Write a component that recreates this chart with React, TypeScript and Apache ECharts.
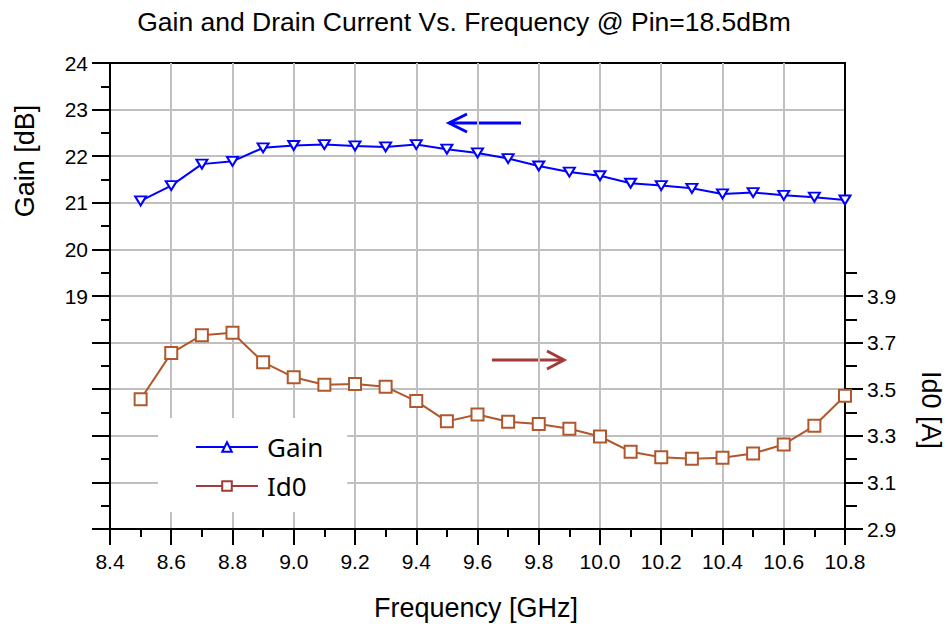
import React, { useEffect, useRef } from 'react';
import * as echarts from 'echarts';

const freqGHz = [8.5, 8.6, 8.7, 8.8, 8.9, 9.0, 9.1, 9.2, 9.3, 9.4, 9.5, 9.6, 9.7, 9.8, 9.9, 10.0, 10.1, 10.2, 10.3, 10.4, 10.5, 10.6, 10.7, 10.8];
const gainDb = [21.04, 21.37, 21.83, 21.89, 22.18, 22.23, 22.25, 22.22, 22.2, 22.25, 22.15, 22.07, 21.95, 21.79, 21.66, 21.58, 21.42, 21.37, 21.31, 21.19, 21.22, 21.16, 21.12, 21.06];
const id0A = [3.457, 3.655, 3.732, 3.742, 3.616, 3.551, 3.519, 3.522, 3.51, 3.449, 3.362, 3.391, 3.36, 3.351, 3.33, 3.297, 3.232, 3.208, 3.201, 3.206, 3.224, 3.263, 3.343, 3.472];
const id0MajorTicks = [2.9, 3.1, 3.3, 3.5, 3.7, 3.9];
const id0MinorTicks = [3.0, 3.2, 3.4, 3.6, 3.8, 4.0];
const gainLabelMin = 19;

const titleText = 'Gain and Drain Current Vs. Frequency @ Pin=18.5dBm';
const xName = 'Frequency [GHz]';
const yLeftName = 'Gain [dB]';
const yRightName = 'Id0 [A]';

export default function App() {
  const ref = useRef<HTMLDivElement>(null);
  useEffect(() => {
    const chart = echarts.init(ref.current!, null, { renderer: 'svg' });
    const font = '"Liberation Sans", Arial, sans-serif';
    const black = { color: '#000', width: 2 };
    const gridGray = { color: '#c0c0c0', width: 2 };
    const blue = '#0000ff';
    const brown = '#b0582c';
    const legendRed = '#a33a3a';
    const fmt1 = (v: number) => v.toFixed(1);

    chart.setOption({
      animation: false,
      backgroundColor: '#fff',
      grid: { left: 110, top: 63, right: 103, bottom: 95, show: true, borderColor: '#000', borderWidth: 2, backgroundColor: 'transparent' },
      xAxis: {
        type: 'value', min: 8.4, max: 10.8, interval: 0.2,
        axisLine: { lineStyle: black },
        axisTick: { length: 16, lineStyle: black },
        minorTick: { show: true, splitNumber: 2, length: 8, lineStyle: black },
        axisLabel: { fontSize: 21, color: '#000', margin: 22, fontFamily: font, formatter: fmt1 },
        splitLine: { show: true, lineStyle: gridGray, showMinLine: false, showMaxLine: false },
      },
      yAxis: [
        {
          type: 'value', min: 14, max: 24, interval: 1, position: 'left',
          axisLine: { show: true, lineStyle: black },
          axisTick: { show: true, length: 18, lineStyle: black },
          minorTick: { show: true, splitNumber: 2, length: 9, lineStyle: black },
          axisLabel: { fontSize: 21, color: '#000', margin: 22, fontFamily: font, formatter: (v: number) => (v >= gainLabelMin ? String(v) : '') },
          splitLine: { show: true, lineStyle: gridGray, showMinLine: false, showMaxLine: false },
        },
        {
          type: 'value', min: 2.9, max: 4.9, position: 'right',
          axisLine: { show: true, lineStyle: black },
          axisTick: { show: true, length: 18, lineStyle: black, customValues: id0MajorTicks },
          axisLabel: { fontSize: 21, color: '#000', margin: 22, fontFamily: font, customValues: id0MajorTicks, formatter: fmt1 },
          splitLine: { show: false },
        },
        {
          type: 'value', min: 2.9, max: 4.9, position: 'right',
          axisLine: { show: false },
          axisTick: { show: true, length: 12, lineStyle: black, customValues: id0MinorTicks },
          axisLabel: { show: false },
          splitLine: { show: false },
        },
      ],
      legend: {
        orient: 'vertical', left: 158, top: 418,
        itemWidth: 62, itemHeight: 12, itemGap: 13,
        padding: [16, 24, 13, 37],
        backgroundColor: '#fff',
        selectedMode: false,
        symbolRotate: 0,
        textStyle: { fontSize: 26, fontFamily: '"Noto Sans", sans-serif', color: '#000', lineHeight: 26, padding: [0, 0, 0, 4] },
        data: [
          { name: 'Gain' },
          { name: 'Id0', itemStyle: { borderColor: legendRed, color: '#fff' }, lineStyle: { color: legendRed } },
        ],
      },
      series: [
        {
          name: 'Gain', type: 'line', xAxisIndex: 0, yAxisIndex: 0,
          data: freqGHz.map((f, i) => [f, gainDb[i]]),
          symbol: 'triangle', symbolRotate: 180, symbolSize: [11, 9],
          color: blue,
          lineStyle: { color: blue, width: 2 },
          itemStyle: { color: '#fff', borderColor: blue, borderWidth: 2 },
          z: 3,
        },
        {
          name: 'Id0', type: 'line', xAxisIndex: 0, yAxisIndex: 1,
          data: freqGHz.map((f, i) => [f, id0A[i]]),
          symbol: 'rect', symbolSize: 12,
          color: brown,
          lineStyle: { color: brown, width: 2 },
          itemStyle: { color: '#fff', borderColor: brown, borderWidth: 2 },
          z: 3,
        },
      ],
      graphic: [
        { type: 'text', x: 464, y: 22, style: { text: titleText, fontSize: 26.5, fontFamily: font, fill: '#000', textAlign: 'center', textVerticalAlign: 'middle' } },
        { type: 'text', x: 476, y: 608, style: { text: xName, fontSize: 27, fontFamily: font, fill: '#000', textAlign: 'center', textVerticalAlign: 'middle' } },
        { type: 'text', x: 25, y: 161, rotation: Math.PI / 2, style: { text: yLeftName, fontSize: 27, fontFamily: font, fill: '#000', textAlign: 'center', textVerticalAlign: 'middle' } },
        { type: 'text', x: 931, y: 410, rotation: -Math.PI / 2, style: { text: yRightName, fontSize: 27, fontFamily: font, fill: '#000', textAlign: 'center', textVerticalAlign: 'middle' } },
        { type: 'polyline', shape: { points: [[449, 123], [521, 123]] }, style: { stroke: blue, lineWidth: 3, fill: 'none' } },
        { type: 'polyline', shape: { points: [[467, 114], [449, 123], [467, 132]] }, style: { stroke: blue, lineWidth: 3, fill: 'none' } },
        { type: 'polyline', shape: { points: [[492, 360], [563, 360]] }, style: { stroke: legendRed, lineWidth: 3, fill: 'none' } },
        { type: 'polyline', shape: { points: [[547, 351], [564, 360], [547, 369]] }, style: { stroke: legendRed, lineWidth: 3, fill: 'none' } },
      ],
    });
    return () => chart.dispose();
  }, []);
  return <div ref={ref} style={{ position: 'fixed', left: 0, top: 0, width: 948, height: 624, background: '#fff' }} />;
}
